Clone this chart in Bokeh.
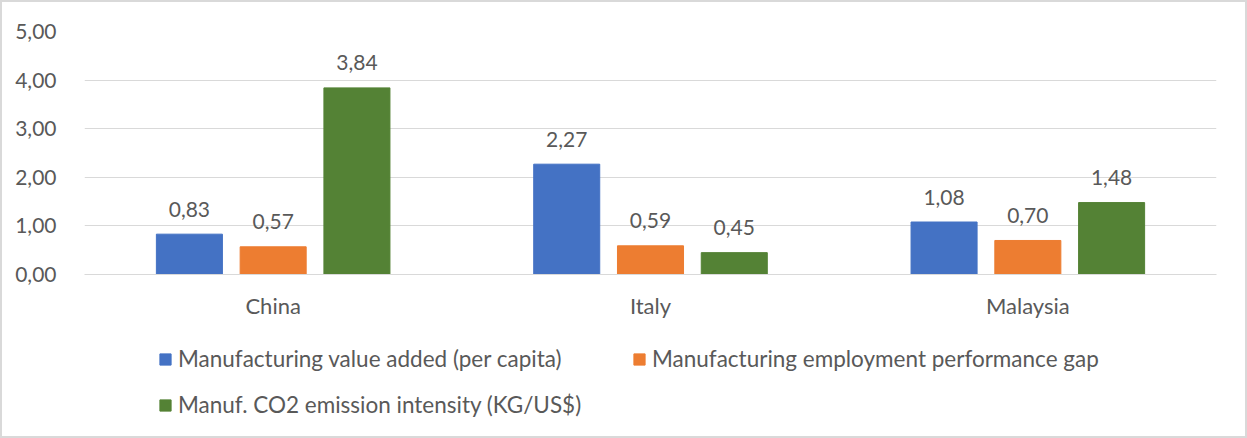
from bokeh.plotting import figure
from bokeh.layouts import column
from bokeh.models import (ColumnDataSource, FactorRange, Legend, LegendItem, LabelSet,
                          CustomJSTickFormatter, FixedTicker, Range1d)
from bokeh.core.properties import value
from bokeh.transform import dodge
from bokeh.embed import file_html
from bokeh.resources import INLINE

countries = ["China", "Italy", "Malaysia"]
series_names = ["Manufacturing value added (per capita)",
                "Manufacturing employment performance gap",
                "Manuf. CO2 emission intensity (KG/US$)"]
value_added = [0.83, 2.27, 1.08]
employment_gap = [0.57, 0.59, 0.70]
co2_intensity = [3.84, 0.45, 1.48]
y_ticks = [0, 1, 2, 3, 4, 5]

colors = ["#4472C4", "#ED7D31", "#548235"]
FONT = "Lato"
FS = "21px"
FS_CAT = "22px"
FS_LEG = "22.5px"
TXT = "#595959"
BORDER = "2px solid #D9D9D9"

def fmt(v):
    return f"{v:.2f}".replace(".", ",")

src = ColumnDataSource(dict(
    country=countries,
    s0=value_added, s1=employment_gap, s2=co2_intensity,
    l0=[fmt(v) for v in value_added],
    l1=[fmt(v) for v in employment_gap],
    l2=[fmt(v) for v in co2_intensity],
))

W = 1247
H1, H2 = 330, 108

# ---- main chart ----
p = figure(width=W, height=H1, x_range=FactorRange(*countries, range_padding=0),
           y_range=(0, 5), output_backend="svg", toolbar_location=None,
           min_border_left=82, min_border_right=33, min_border_top=29, min_border_bottom=58)
p.styles = {"border": BORDER, "border-bottom": "none"}
p.outline_line_color = None
p.background_fill_color = "white"
p.border_fill_color = "white"

offsets = [-0.222, 0.0, 0.222]
renderers = []
for i, off in enumerate(offsets):
    r = p.vbar(x=dodge("country", off, range=p.x_range), top=f"s{i}", width=0.175,
               source=src, color=colors[i], line_color=colors[i])
    renderers.append(r)
    lab = LabelSet(x=dodge("country", off, range=p.x_range), y=f"s{i}", text=f"l{i}",
                   source=src, text_align="center", text_baseline="middle", y_offset=25,
                   text_font=value(FONT), text_font_size=value(FS), text_color=TXT)
    p.add_layout(lab)

p.yaxis.ticker = FixedTicker(ticks=y_ticks)
p.yaxis.formatter = CustomJSTickFormatter(code="return tick.toFixed(2).replace('.', ',');")
p.yaxis.axis_line_color = None
p.yaxis.major_tick_line_color = None
p.yaxis.minor_tick_line_color = None
p.yaxis.major_label_standoff = 22
p.yaxis.major_label_text_font = FONT
p.yaxis.major_label_text_font_size = FS
p.yaxis.major_label_text_color = TXT

p.xaxis.axis_line_color = "#D9D9D9"
p.xaxis.major_tick_line_color = None
p.xaxis.minor_tick_line_color = None
p.xaxis.major_label_standoff = 11
p.xaxis.major_label_text_font = FONT
p.xaxis.major_label_text_font_size = FS_CAT
p.xaxis.major_label_text_color = TXT

p.xgrid.grid_line_color = None
p.ygrid.grid_line_color = "#D9D9D9"
p.ygrid.grid_line_width = 1

# ---- legend strip (its bars lie below its visible y range, only the legend shows) ----
p2 = figure(width=W, height=H2, x_range=FactorRange(*countries, range_padding=0),
            y_range=Range1d(10, 11), output_backend="svg", toolbar_location=None,
            min_border=0, x_axis_location=None, y_axis_location=None)
p2.styles = {"border": BORDER, "border-top": "none"}
p2.outline_line_color = None
p2.grid.grid_line_color = None
leg_r = [p2.vbar(x=dodge("country", off, range=p2.x_range), top=f"s{i}", width=0.175,
                 source=src, color=colors[i], line_color=colors[i])
         for i, off in enumerate(offsets)]

common = dict(orientation="horizontal", glyph_width=14, glyph_height=14, label_standoff=6,
              spacing=0, padding=0, margin=0, border_line_color=None,
              background_fill_alpha=0, label_text_font=FONT, label_text_font_size=FS_LEG,
              label_text_color=TXT, label_height=24)
leg1 = Legend(items=[LegendItem(label=series_names[0], renderers=[leg_r[0]]),
                     LegendItem(label=series_names[1], renderers=[leg_r[1]])],
              location=(74, 66), label_width=454, **common)
leg2 = Legend(items=[LegendItem(label=series_names[2], renderers=[leg_r[2]])],
              location=(74, 20), **common)
p2.add_layout(leg1, "center")
p2.add_layout(leg2, "center")

layout = column(p, p2, spacing=0)
open("out.html", "w").write(file_html(layout, INLINE))
